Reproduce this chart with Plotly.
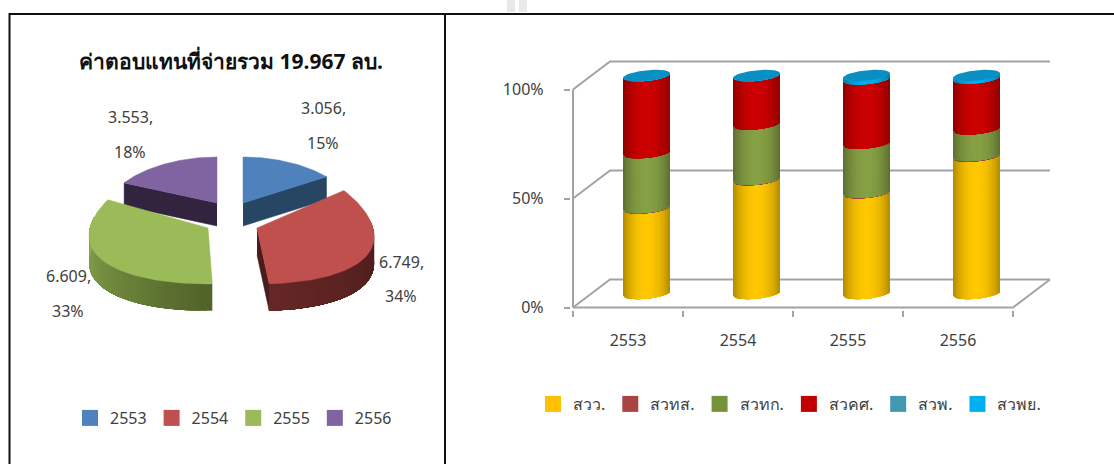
import math
import plotly.graph_objects as go

# ---------- data ----------
pie_years = ["2553", "2554", "2555", "2556"]
pie_values = [3.056, 6.749, 6.609, 3.553]
pie_colors = ["#4F81BD", "#C0504D", "#9BBB59", "#8064A2"]
pie_title = "ค่าตอบแทนที่จ่ายรวม 19.967 ลบ."

bar_years = ["2553", "2554", "2555", "2556"]
bar_names = ["สวว.", "สวทส.", "สวทก.", "สวคศ.", "สวพ.", "สวพย."]
v_sww = [39.2, 52.2, 46.2, 63.0]
v_swts = [0.2, 0.2, 0.2, 0.3]
v_swtk = [25.2, 25.3, 22.5, 12.2]
v_swks = [35.3, 22.2, 29.5, 23.3]
v_swp = [0.05, 0.05, 0.1, 0.1]
v_swpy = [0.05, 0.05, 1.5, 1.1]
bar_series = [v_sww, v_swts, v_swtk, v_swks, v_swp, v_swpy]
bar_colors = ["#FFC000", "#A94442", "#76923C", "#C00000", "#4198AF", "#00B0F0"]
side_colors = ["#FFC800", "#A94442", "#86A045", "#CC0000", "#4198AF", "#00B0F0"]
y_ticks = [0, 50, 100]

GREY = "#A3A3A3"
TEXT = "#404040"
FONT = "Noto Sans, Noto Sans CJK SC, sans-serif"

# ---------- helpers ----------
def hex2rgb(c):
    return [int(c[i:i + 2], 16) for i in (1, 3, 5)]

def rgb(c):
    return "rgb(%d,%d,%d)" % tuple(max(0, min(255, round(v))) for v in c)

def shade(c, f):
    return rgb([v * f for v in hex2rgb(c)])

def blend(c1, c2, t):
    a, b = hex2rgb(c1), hex2rgb(c2)
    return rgb([a[i] + (b[i] - a[i]) * t for i in range(3)])

fig = go.Figure()

def poly(xs, ys, color, ax="x3", ay="y3", lw=0.0):
    fig.add_trace(go.Scatter(x=xs, y=ys, mode="lines", fill="toself", fillcolor=color,
                             line=dict(color=color, width=lw), xaxis=ax, yaxis=ay,
                             showlegend=False, hoverinfo="skip"))

# ---------- 3D pie (left) : angles come from pie_values ----------
total = sum(pie_values)
apex_x = [243, 257, 208, 217]
apex_y = [203, 228, 228, 203]
rad_a = [108, 116, 118, 108]
rad_b = [46, 62, 62, 46]
depth = [23, 27, 27, 23]
persp_y = [0, 0.1, 0.1, 0]
shear = [0, 5, -3, 0]
KP = 0.10

def pie_pt(i, deg, drop=0):
    t = math.radians(deg)
    c = math.cos(t)
    sx = apex_x[i] + rad_a[i] * math.sin(t) * (1 - KP * c) - shear[i] * c
    sy = apex_y[i] - rad_b[i] * c * (1 + persp_y[i] * c) + drop
    return sx, sy

angles = []
a0 = 0.0
for v in pie_values:
    a1 = a0 + v / total * 360
    angles.append((a0, a1))
    a0 = a1

# rim gradient, from the low-angle end to the high-angle end of each slice
side_grad = {1: ("#4A1B1A", "#652725"), 2: ("#4F6228", "#8FAE52")}
cut_col = {0: "#264664", 1: "#4A1C1B", 3: "#32243F"}

for i in [3, 0, 1, 2]:
    s, e = angles[i]
    if i in cut_col:
        ang = s if i == 3 else e
        ex, ey = pie_pt(i, ang)
        poly([apex_x[i], ex, ex, apex_x[i]],
             [apex_y[i], ey, ey + depth[i], apex_y[i] + depth[i]], cut_col[i], lw=0.5)
    if i in side_grad:
        lo, hi = max(s, 80), min(e, 280)
        n = 40
        for k in range(n):
            d0 = lo + (hi - lo) * k / n
            arc = [d0 + (hi - d0) * m / 24 for m in range(25)]
            p = [pie_pt(i, d) for d in arc] + [pie_pt(i, d, depth[i]) for d in reversed(arc)]
            poly([u[0] for u in p], [u[1] for u in p], blend(side_grad[i][0], side_grad[i][1], (k + .5) / n))
    pts = [pie_pt(i, s + (e - s) * k / 60) for k in range(61)]
    poly([apex_x[i]] + [u[0] for u in pts] + [apex_x[i]],
         [apex_y[i]] + [u[1] for u in pts] + [apex_y[i]], pie_colors[i], lw=0.5)

label_x = [323, 401, 68, 130]
label_y1 = [108, 262, 276, 117]
label_y2 = [143, 296, 311, 152]
annotations = []
for i, v in enumerate(pie_values):
    for txt, yy in (("%.3f," % v, label_y1[i]), ("%d%%" % round(v / total * 100), label_y2[i])):
        annotations.append(dict(x=label_x[i], y=yy, xref="x3", yref="y3", text=txt, showarrow=False,
                                font=dict(family=FONT, size=16, color=TEXT)))

# ---------- 3D walls (right) ----------
DX = 37 / 110      # depth offset in category units
DY = 28 / 2.18     # depth offset in percent units
x_left, x_right = -0.5, 3.5

def wall(xs, ys):
    fig.add_trace(go.Scatter(x=xs, y=ys, mode="lines", line=dict(color=GREY, width=2), xaxis="x2", yaxis="y2",
                             showlegend=False, hoverinfo="skip", cliponaxis=False))

for t in y_ticks:
    wall([x_left, x_left + DX, x_right + DX], [t, t + DY, t + DY])
wall([x_left, x_left], [0, 100])
wall([x_left, x_right, x_right + DX], [0, 0, DY])

# ---------- cylinders ----------
CYL_A = 23.5 / 110
CYL_B = 5.2 / 2.18
TILT = 2.3 / 2.18
OFF_X = DX / 2
OFF_Y = DY / 2
N = 28

def arc_y(u, p):
    return p + OFF_Y + TILT * u - CYL_B * math.sqrt(max(0, 1 - u * u))

bases = [[0.0] * 4]
for s in bar_series:
    bases.append([b + v for b, v in zip(bases[-1], s)])

def factor(u):
    return 0.66 + 0.34 * math.cos(u * math.pi / 2) ** 0.7

for si in range(len(bar_series)):
    for k in range(N):
        u0 = -1 + 2 * k / N
        us = [u0 + (1 - u0) * m / 20 for m in range(21)]
        xs, ys = [], []
        for c in range(4):
            lo, hi = bases[si][c], bases[si + 1][c]
            cx = c + OFF_X
            xs += [cx + CYL_A * u for u in us] + [cx + CYL_A * u for u in reversed(us)] + [None]
            ys += [arc_y(u, lo) for u in us] + [arc_y(u, hi) for u in reversed(us)] + [None]
        poly(xs, ys, shade(side_colors[si], factor(u0 + 1 / N)), "x2", "y2")

# top caps
xs, ys = [], []
for c in range(4):
    top = bases[-1][c]
    for k in range(61):
        t = 2 * math.pi * k / 60
        u = math.cos(t)
        xs.append(c + OFF_X + CYL_A * u)
        ys.append(top + OFF_Y + TILT * u + CYL_B * math.sin(t))
    xs.append(None)
    ys.append(None)
poly(xs, ys, "#0A8FC2", "x2", "y2")

# ---------- legends ----------
for name, col in zip(pie_years, pie_colors):
    fig.add_trace(go.Scatter(x=[None], y=[None], mode="markers", name=name, legend="legend",
                             marker=dict(symbol="square", size=16, color=col), xaxis="x3", yaxis="y3"))
for name, col in zip(bar_names, bar_colors):
    fig.add_trace(go.Scatter(x=[None], y=[None], mode="markers", name=name, legend="legend2",
                             marker=dict(symbol="square", size=16, color=col), xaxis="x2", yaxis="y2"))

# ---------- frame ----------
shapes = [
    dict(type="rect", xref="paper", yref="paper", x0=507 / 1114, x1=527 / 1114, y0=1 - 12 / 464, y1=1,
         fillcolor="#E9E9E9", line=dict(width=0), layer="below"),
    dict(type="rect", xref="paper", yref="paper", x0=515 / 1114, x1=519 / 1114, y0=1 - 12 / 464, y1=1,
         fillcolor="#FFFFFF", line=dict(width=0), layer="below"),
    dict(type="line", xref="paper", yref="paper", x0=9 / 1114, x1=1, y0=1 - 14 / 464, y1=1 - 14 / 464,
         line=dict(color="#111111", width=2)),
    dict(type="line", xref="paper", yref="paper", x0=9.5 / 1114, x1=9.5 / 1114, y0=0, y1=1 - 13 / 464,
         line=dict(color="#111111", width=2)),
    dict(type="line", xref="paper", yref="paper", x0=445 / 1114, x1=445 / 1114, y0=0, y1=1 - 13 / 464,
         line=dict(color="#111111", width=2)),
]

fig.update_layout(
    width=1114, height=464, margin=dict(l=0, r=0, t=0, b=0, autoexpand=False),
    paper_bgcolor="white", plot_bgcolor="rgba(0,0,0,0)",
    title=dict(text="<b>%s</b>" % pie_title, x=231 / 1114, xanchor="center", y=1 - 62 / 464, yanchor="middle",
               font=dict(family=FONT, size=21, color="#111111")),
    annotations=annotations, shapes=shapes,
    xaxis2=dict(domain=[570.8 / 1114, 1060 / 1114], range=[-0.52, (1060 - 573) / 110 - 0.5], anchor="y2",
                tickmode="array", tickvals=[0, 1, 2, 3], ticktext=bar_years, ticks="", showgrid=False, zeroline=False,
                ticklabelstandoff=19, tickfont=dict(family=FONT, size=16, color=TEXT),
                minor=dict(tickmode="array", tickvals=[-0.5, 0.5, 1.5, 2.5, 3.5], ticks="outside", ticklen=6,
                           tickwidth=2, tickcolor=GREY, showgrid=False)),
    yaxis2=dict(domain=[(464 - 309.7) / 464, (464 - 50) / 464], range=[-1, 257.5 / 2.18], anchor="x2",
                tickmode="array", tickvals=y_ticks, ticktext=["%d%%" % t for t in y_ticks], ticks="outside",
                ticklen=6, tickwidth=2,
                tickcolor=GREY, showgrid=False, zeroline=False, ticklabelstandoff=17,
                tickfont=dict(family=FONT, size=16, color=TEXT)),
    xaxis3=dict(domain=[0, 445 / 1114], range=[0, 445], visible=False, anchor="y3"),
    yaxis3=dict(domain=[0, 1], range=[464, 0], visible=False, anchor="x3"),
    legend=dict(orientation="h", x=70 / 1114, y=1 - 418 / 464, xanchor="left", yanchor="middle",
                font=dict(family=FONT, size=16, color=TEXT), bgcolor="rgba(0,0,0,0)"),
    legend2=dict(orientation="h", x=533 / 1114, y=1 - 404 / 464, xanchor="left", yanchor="middle",
                 font=dict(family=FONT, size=16, color=TEXT), bgcolor="rgba(0,0,0,0)"),
)

fig.write_html("out.html", config={"displayModeBar": False},
               post_script="document.body.style.margin='0';document.documentElement.style.overflow='hidden';")
